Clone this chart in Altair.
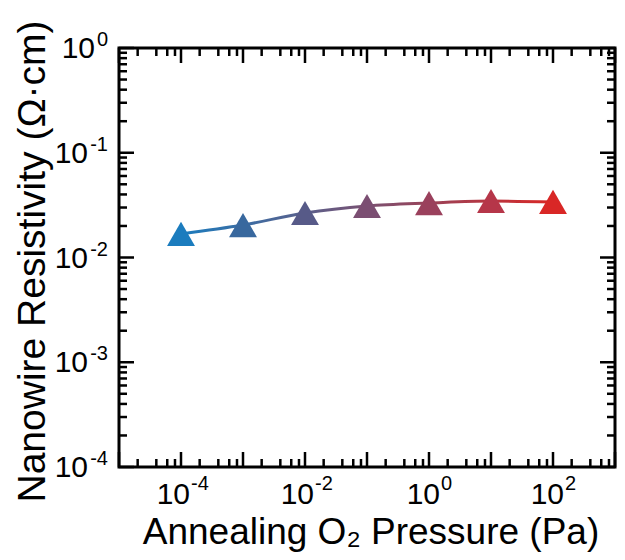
import altair as alt
import pandas as pd

# ---- data ----
pressure = [1e-4, 1e-3, 1e-2, 1e-1, 1e0, 1e1, 1e2]
resistivity = [0.0168, 0.0204, 0.0266, 0.0310, 0.0331, 0.0346, 0.0339]
point_colors = ["#1b7cbe", "#38689e", "#575a88", "#7b4e72", "#9a405c", "#b63649", "#d92726"]

x_major = [1e-5, 1e-4, 1e-3, 1e-2, 1e-1, 1e0, 1e1, 1e2, 1e3]
x_minor_mult = [2, 4, 6, 8]
y_major = [1e0, 1e-1, 1e-2, 1e-3, 1e-4]
y_minor_mult = [2, 3, 4, 5, 6, 7, 8, 9]

x_label_vals = [1e-4, 1e-2, 1e0, 1e2]
x_label_exp = ["-4", "-2", "0", "2"]
y_label_vals = [1e0, 1e-1, 1e-2, 1e-3, 1e-4]
y_label_exp = ["0", "-1", "-2", "-3", "-4"]

x_title = "Annealing O\u2082 Pressure (Pa)"
y_title = "Nanowire Resistivity (\u03a9\u00b7cm)"

# ---- layout ----
W, H = 496, 419
FONT = "Liberation Sans, Arial, Helvetica, sans-serif"
MAJ, MIN = 15, 8

xs = alt.Scale(type="log", domain=[1e-5, 1e3], nice=False)
ys = alt.Scale(type="log", domain=[1e-4, 1e0], nice=False)

df = pd.DataFrame({"p": pressure, "r": resistivity, "c": point_colors})

x_minor = [m * v for v in x_major[:-1] for m in x_minor_mult]
y_minor = [m * v for v in y_major[1:] for m in y_minor_mult]

xmaj_df = pd.DataFrame({"v": x_major})
xmin_df = pd.DataFrame({"v": x_minor})
ymaj_df = pd.DataFrame({"v": y_major})
ymin_df = pd.DataFrame({"v": y_minor})

tick_style = dict(color="black", strokeWidth=2.5)


def xticks(d, L):
    bottom = alt.Chart(d).mark_rule(**tick_style).encode(
        x=alt.X("v:Q", scale=xs, axis=None), y=alt.value(H), y2=alt.value(H - L))
    top = alt.Chart(d).mark_rule(**tick_style).encode(
        x=alt.X("v:Q", scale=xs, axis=None), y=alt.value(0), y2=alt.value(L))
    return [bottom, top]


def yticks(d, L):
    left = alt.Chart(d).mark_rule(**tick_style).encode(
        y=alt.Y("v:Q", scale=ys, axis=None), x=alt.value(0), x2=alt.value(L))
    right = alt.Chart(d).mark_rule(**tick_style).encode(
        y=alt.Y("v:Q", scale=ys, axis=None), x=alt.value(W), x2=alt.value(W - L))
    return [left, right]


layers = []
layers += xticks(xmaj_df, MAJ) + xticks(xmin_df, MIN)
layers += yticks(ymaj_df, MAJ) + yticks(ymin_df, MIN)

# x tick labels
xl_df = pd.DataFrame({"v": x_label_vals, "e": x_label_exp, "b": ["10"] * len(x_label_vals)})
for neg, dx in [(True, 9), (False, 11)]:
    f = "indexof(datum.e, '-') >= 0" if neg else "indexof(datum.e, '-') < 0"
    base = alt.Chart(xl_df).transform_filter(f).mark_text(
        align="right", baseline="alphabetic", fontSize=30, font=FONT, dx=dx, color="black"
    ).encode(x=alt.X("v:Q", scale=xs, axis=None), y=alt.value(H + 37), text="b:N")
    sup = alt.Chart(xl_df).transform_filter(f).mark_text(
        align="left", baseline="alphabetic", fontSize=20, font=FONT, dx=dx + 1, color="black"
    ).encode(x=alt.X("v:Q", scale=xs, axis=None), y=alt.value(H + 23), text="e:N")
    layers += [base, sup]

# y tick labels
yl_df = pd.DataFrame({"v": y_label_vals, "e": y_label_exp, "b": ["10"] * len(y_label_vals)})
for neg, xr in [(True, -31), (False, -24)]:
    f = "indexof(datum.e, '-') >= 0" if neg else "indexof(datum.e, '-') < 0"
    base = alt.Chart(yl_df).transform_filter(f).mark_text(
        align="right", baseline="alphabetic", fontSize=30, font=FONT, dy=10, color="black"
    ).encode(y=alt.Y("v:Q", scale=ys, axis=None), x=alt.value(xr), text="b:N")
    layers.append(base)
sup_y = alt.Chart(yl_df).mark_text(
    align="right", baseline="alphabetic", fontSize=20, font=FONT, dy=-2, color="black"
).encode(y=alt.Y("v:Q", scale=ys, axis=None), x=alt.value(-11), text="e:N")
layers.append(sup_y)

# titles
title_df = pd.DataFrame({"t": [x_title]})
layers.append(alt.Chart(title_df).mark_text(
    align="center", baseline="alphabetic", fontSize=37, font=FONT, color="black"
).encode(x=alt.value(W / 2 + 4), y=alt.value(H + 77), text="t:N"))
ytitle_df = pd.DataFrame({"t": [y_title]})
layers.append(alt.Chart(ytitle_df).mark_text(
    align="center", baseline="alphabetic", fontSize=39, font=FONT, angle=270, color="black"
).encode(x=alt.value(-74), y=alt.value(H / 2 + 4), text="t:N"))

# data line + points
grad = alt.Gradient(
    gradient="linear",
    stops=[alt.GradientStop(color=point_colors[0], offset=0),
           alt.GradientStop(color=point_colors[-1], offset=1)],
    x1=0, x2=1, y1=0, y2=0,
)
line = alt.Chart(df).mark_line(interpolate="monotone", strokeWidth=3, color=grad).encode(
    x=alt.X("p:Q", scale=xs, axis=None), y=alt.Y("r:Q", scale=ys, axis=None))
pts = alt.Chart(df).mark_point(shape="triangle-up", filled=True, size=780, opacity=1).encode(
    x=alt.X("p:Q", scale=xs, axis=None), y=alt.Y("r:Q", scale=ys, axis=None),
    color=alt.Color("c:N", scale=None))
layers += [line, pts]

chart = alt.layer(*layers).properties(
    width=W, height=H,
    autosize=alt.AutoSizeParams(type="none"),
    padding={"left": 111, "top": 40, "right": 2, "bottom": 85},
).configure_view(stroke="black", strokeWidth=3)

chart.save("out.html", embed_options={"renderer": "svg", "actions": False})
